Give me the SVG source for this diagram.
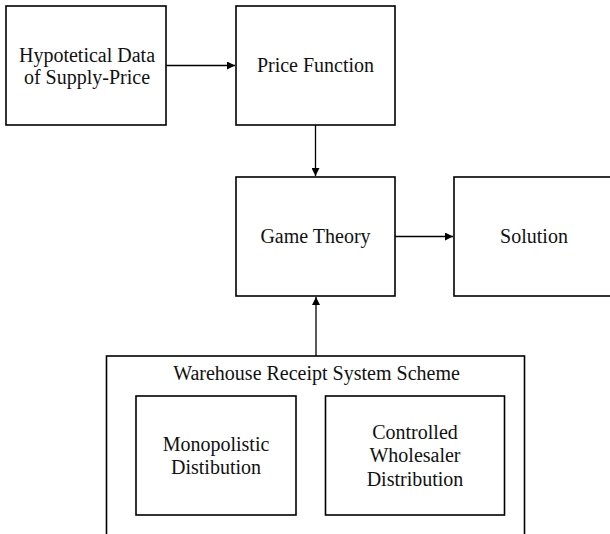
<svg xmlns="http://www.w3.org/2000/svg" width="610" height="534" viewBox="0 0 610 534">
<style>
.box{fill:#fff;stroke:#000;stroke-width:1.6}
.t{font-family:"Liberation Serif","Times New Roman",serif;font-size:20px;fill:#111;text-anchor:middle}
.c{stroke:#000;stroke-width:1.3;fill:none}
</style>
<defs>
<marker id="ah" viewBox="0 0 10 10" refX="10" refY="5" markerWidth="8" markerHeight="8" markerUnits="userSpaceOnUse" orient="auto">
<path d="M0,0 L10,5 L0,10 z" fill="#000"/>
</marker>
</defs>
<rect width="610" height="534" fill="#fff"/>
<g id="n-data">
<rect class="box" x="6" y="6" width="160" height="119"/>
<text class="t" x="87" y="61.5">Hypotetical Data</text>
<text class="t" x="87" y="83.5">of Supply-Price</text>
</g>
<g id="n-price">
<rect class="box" x="236" y="6" width="159" height="119"/>
<text class="t" x="315.5" y="72">Price Function</text>
</g>
<g id="n-game">
<rect class="box" x="236" y="177" width="159" height="119"/>
<text class="t" x="315.5" y="243">Game Theory</text>
</g>
<g id="n-solution">
<rect class="box" x="454" y="177" width="160" height="119"/>
<text class="t" x="534" y="243">Solution</text>
</g>
<g id="n-scheme">
<rect class="box" x="106.5" y="356" width="418" height="190"/>
<text class="t" x="316.5" y="380">Warehouse Receipt System Scheme</text>
<g id="n-mono">
<rect class="box" x="136" y="396" width="160" height="119"/>
<text class="t" x="216" y="450.5">Monopolistic</text>
<text class="t" x="216" y="474">Distibution</text>
</g>
<g id="n-ctrl">
<rect class="box" x="325.5" y="396" width="179" height="119"/>
<text class="t" x="415" y="438.5">Controlled</text>
<text class="t" x="415" y="462">Wholesaler</text>
<text class="t" x="415" y="485.5">Distribution</text>
</g>
</g>
<g id="connectors">
<line class="c" x1="166" y1="65.5" x2="235" y2="65.5" marker-end="url(#ah)"/>
<line class="c" x1="315.5" y1="125" x2="315.5" y2="176" marker-end="url(#ah)"/>
<line class="c" x1="395" y1="236.5" x2="453" y2="236.5" marker-end="url(#ah)"/>
<line class="c" x1="316" y1="356" x2="316" y2="297" marker-end="url(#ah)"/>
</g>
</svg>
